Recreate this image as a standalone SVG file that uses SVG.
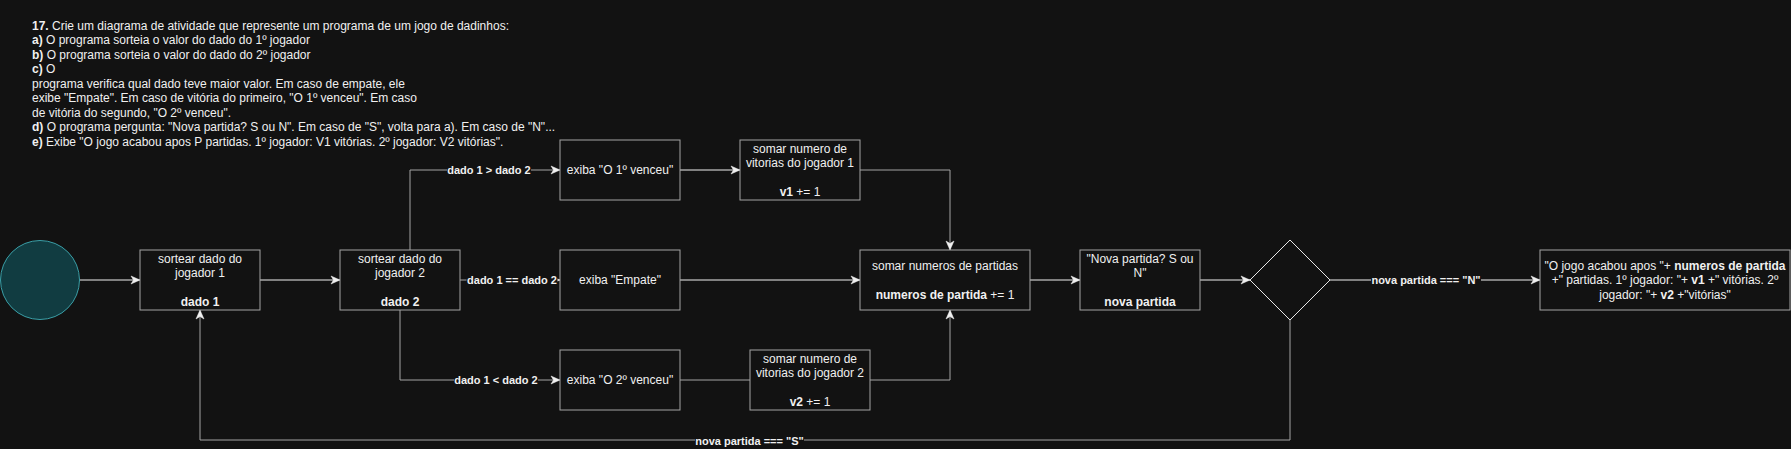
<svg xmlns="http://www.w3.org/2000/svg" width="1791" height="449" viewBox="0 0 1791 449">
<defs>
<style>
.bg{fill:#121212}
.box{fill:#121212;stroke:#a3a3a3;stroke-width:1}
.t{font-family:"Liberation Sans",Arial,Helvetica,sans-serif;font-size:12px;fill:#f0f0f0}
.c{text-anchor:middle}
.b{font-weight:bold}
.lbl{font-family:"Liberation Sans",Arial,Helvetica,sans-serif;font-size:11px;font-weight:bold;fill:#f0f0f0;text-anchor:middle}
.e{fill:none;stroke-width:1}
.w{stroke:#f0f0f0}
.g{stroke:#a3a3a3}
.a{marker-end:url(#arr)}
</style>
<marker id="arr" markerUnits="userSpaceOnUse" markerWidth="12" markerHeight="12" viewBox="-10 -6 12 12" refX="0" refY="0" orient="auto">
<path d="M0,0 L-9,-4 L-6.5,0 L-9,4 Z" fill="#f0f0f0" stroke="#f0f0f0" stroke-width="0.5"/>
</marker>
</defs>
<rect class="bg" x="0" y="0" width="1791" height="449"/>

<g id="header" class="t">
<text x="32" y="29.7"><tspan class="b">17.</tspan> Crie um diagrama de atividade que represente um programa de um jogo de dadinhos:</text>
<text x="32" y="44.2"><tspan class="b">a)</tspan> O programa sorteia o valor do dado do 1º jogador</text>
<text x="32" y="58.7"><tspan class="b">b)</tspan> O programa sorteia o valor do dado do 2º jogador</text>
<text x="32" y="73.2"><tspan class="b">c)</tspan> O</text>
<text x="32" y="87.7">programa verifica qual dado teve maior valor. Em caso de empate, ele</text>
<text x="32" y="102.2">exibe "Empate". Em caso de vitória do primeiro, "O 1º venceu". Em caso</text>
<text x="32" y="116.7">de vitória do segundo, "O 2º venceu".</text>
<text x="32" y="131.2"><tspan class="b">d)</tspan> O programa pergunta: "Nova partida? S ou N". Em caso de "S", volta para a). Em caso de "N"...</text>
<text x="32" y="145.7"><tspan class="b">e)</tspan> Exibe "O jogo acabou apos P partidas. 1º jogador: V1 vitórias. 2º jogador: V2 vitórias".</text>
</g>

<g id="connectors">
<path class="e w a" d="M80,280 H140"/>
<path class="e w a" d="M260,280 H340"/>
<path class="e g a" d="M410,250 V170 H560"/>
<path class="e g a" d="M460,280 H560"/>
<path class="e g a" d="M400,310 V380 H560"/>
<path class="e w a" d="M680,170 H740"/>
<path class="e g a" d="M860,170 H950 V250"/>
<path class="e w a" d="M680,280 H860"/>
<path class="e g" d="M680,380 H750"/>
<path class="e g a" d="M870,380 H950 V310"/>
<path class="e w a" d="M1030,280 H1080"/>
<path class="e w a" d="M1200,280 H1250"/>
<path class="e w a" d="M1330,280 H1540"/>
<path class="e g a" d="M1290,320 V440 H200 V310"/>
<g id="edge-labels">
<rect class="bg" x="447" y="163" width="84" height="14"/>
<text class="lbl" x="489" y="174">dado 1 &gt; dado 2</text>
<rect class="bg" x="466.5" y="273" width="91" height="14"/>
<text class="lbl" x="512" y="284">dado 1 == dado 2</text>
<rect class="bg" x="454" y="373" width="84" height="14"/>
<text class="lbl" x="496" y="384">dado 1 &lt; dado 2</text>
<rect class="bg" x="1371" y="273" width="110" height="14"/>
<text class="lbl" x="1426" y="284">nova partida === "N"</text>
<rect class="bg" x="695" y="434" width="109" height="14"/>
<text class="lbl" x="749.5" y="445">nova partida === "S"</text>
</g>
</g>

<g id="start">
<circle cx="40" cy="280" r="39.5" fill="#113c41" stroke="#3a9ea6" stroke-width="1"/>
</g>

<g id="sortear1">
<rect class="box" x="140" y="250" width="120" height="60"/>
<text class="t c" x="200" y="262.6">sortear dado do</text>
<text class="t c" x="200" y="277">jogador 1</text>
<text class="t c b" x="200" y="305.8">dado 1</text>
</g>

<g id="sortear2">
<rect class="box" x="340" y="250" width="120" height="60"/>
<text class="t c" x="400" y="262.6">sortear dado do</text>
<text class="t c" x="400" y="277">jogador 2</text>
<text class="t c b" x="400" y="305.8">dado 2</text>
</g>

<g id="exiba1">
<rect class="box" x="560" y="140" width="120" height="60"/>
<text class="t c" x="620" y="174.2">exiba "O 1º venceu"</text>
</g>

<g id="empate">
<rect class="box" x="560" y="250" width="120" height="60"/>
<text class="t c" x="620" y="284.2">exiba "Empate"</text>
</g>

<g id="exiba2">
<rect class="box" x="560" y="350" width="120" height="60"/>
<text class="t c" x="620" y="384.2">exiba "O 2º venceu"</text>
</g>

<g id="somarv1">
<rect class="box" x="740" y="140" width="120" height="60"/>
<text class="t c" x="800" y="152.6">somar numero de</text>
<text class="t c" x="800" y="167">vitorias do jogador 1</text>
<text class="t c" x="800" y="195.8"><tspan class="b">v1</tspan> += 1</text>
</g>

<g id="somarv2">
<rect class="box" x="750" y="350" width="120" height="60"/>
<text class="t c" x="810" y="362.6">somar numero de</text>
<text class="t c" x="810" y="377">vitorias do jogador 2</text>
<text class="t c" x="810" y="405.8"><tspan class="b">v2</tspan> += 1</text>
</g>

<g id="partidas">
<rect class="box" x="860" y="250" width="170" height="60"/>
<text class="t c" x="945" y="269.8">somar numeros de partidas</text>
<text class="t c" x="945" y="298.6"><tspan class="b">numeros de partida</tspan> += 1</text>
</g>

<g id="novapartida">
<rect class="box" x="1080" y="250" width="120" height="60"/>
<text class="t c" x="1140" y="262.6">"Nova partida? S ou</text>
<text class="t c" x="1140" y="277">N"</text>
<text class="t c b" x="1140" y="305.8">nova partida</text>
</g>

<g id="decisao">
<path d="M1290,240 L1330,280 L1290,320 L1250,280 Z" fill="#121212" stroke="#e6e6e6" stroke-width="1"/>
</g>

<g id="fim">
<rect class="box" x="1540" y="250" width="250" height="60"/>
<text class="t c" x="1665" y="269.8">"O jogo acabou apos "+ <tspan class="b">numeros de partida</tspan></text>
<text class="t c" x="1665" y="284.2">+" partidas. 1º jogador: "+ <tspan class="b">v1</tspan> +" vitórias. 2º</text>
<text class="t c" x="1665" y="298.6">jogador: "+ <tspan class="b">v2</tspan> +"vitórias"</text>
</g>
</svg>
